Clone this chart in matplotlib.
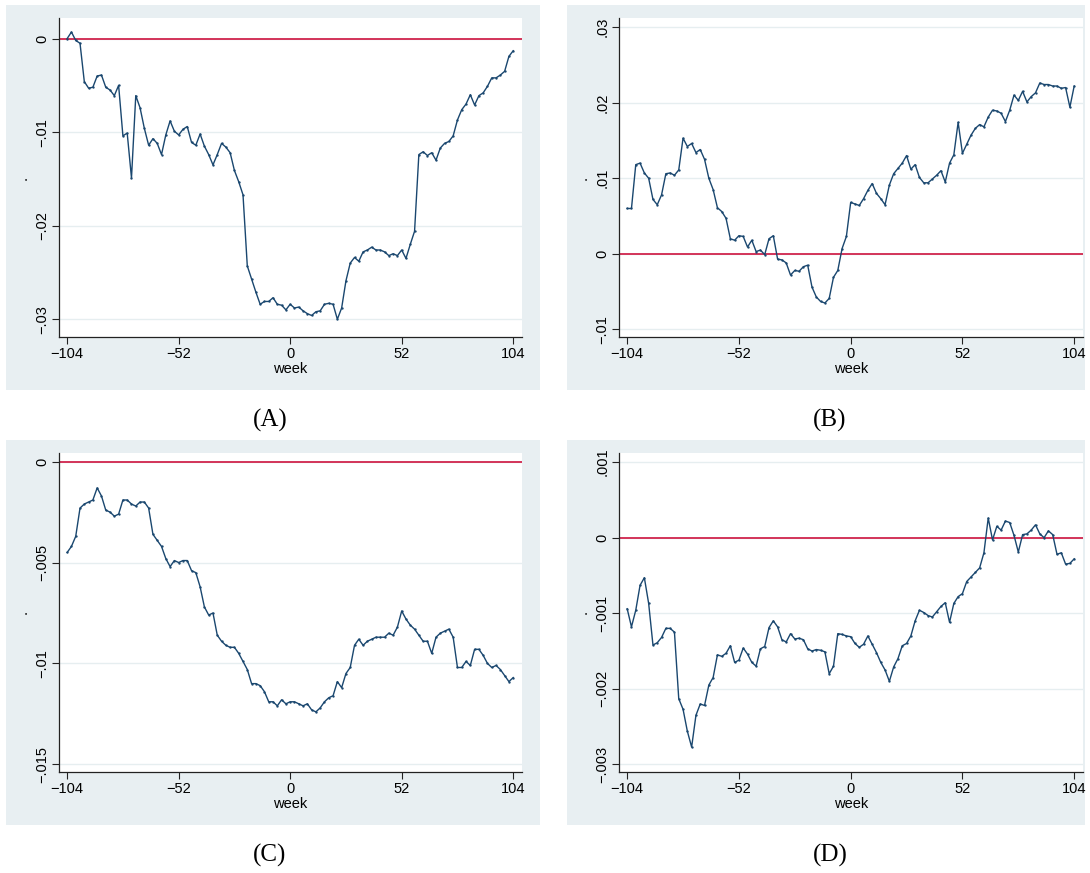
import numpy as np
import matplotlib
matplotlib.use("Agg")
import matplotlib.pyplot as plt
from matplotlib.patches import Rectangle

# %% Data (one value every 2 weeks)
weeks = np.arange(-104, 105, 2)

panel_a = [0.0000, 0.0007, -0.0002, -0.0005, -0.0046, -0.0053, -0.0052, -0.0040, -0.0039, -0.0052,
           -0.0055, -0.0061, -0.0050, -0.0104, -0.0101, -0.0149, -0.0061, -0.0074, -0.0096, -0.0114,
           -0.0107, -0.0112, -0.0124, -0.0103, -0.0088, -0.0099, -0.0103, -0.0097, -0.0094, -0.0111,
           -0.0114, -0.0102, -0.0115, -0.0124, -0.0135, -0.0124, -0.0112, -0.0116, -0.0122, -0.0141,
           -0.0153, -0.0167, -0.0243, -0.0257, -0.0271, -0.0284, -0.0281, -0.0281, -0.0277, -0.0284,
           -0.0285, -0.0290, -0.0284, -0.0288, -0.0287, -0.0291, -0.0294, -0.0296, -0.0292, -0.0291,
           -0.0284, -0.0283, -0.0284, -0.0300, -0.0288, -0.0259, -0.0240, -0.0234, -0.0238, -0.0228,
           -0.0226, -0.0223, -0.0226, -0.0226, -0.0228, -0.0232, -0.0230, -0.0232, -0.0226, -0.0235,
           -0.0220, -0.0206, -0.0124, -0.0121, -0.0125, -0.0122, -0.0130, -0.0117, -0.0112, -0.0110,
           -0.0104, -0.0087, -0.0076, -0.0070, -0.0060, -0.0071, -0.0061, -0.0058, -0.0051, -0.0042,
           -0.0042, -0.0039, -0.0035, -0.0019, -0.0013]

panel_b = [0.0060, 0.0060, 0.0118, 0.0120, 0.0107, 0.0100, 0.0072, 0.0065, 0.0078, 0.0106,
           0.0107, 0.0104, 0.0111, 0.0153, 0.0142, 0.0146, 0.0134, 0.0138, 0.0125, 0.0100,
           0.0085, 0.0061, 0.0056, 0.0047, 0.0020, 0.0018, 0.0024, 0.0023, 0.0009, 0.0018,
           0.0003, 0.0005, -0.0001, 0.0020, 0.0024, -0.0007, -0.0008, -0.0012, -0.0028, -0.0022,
           -0.0023, -0.0017, -0.0015, -0.0044, -0.0057, -0.0063, -0.0065, -0.0059, -0.0031, -0.0022,
           0.0007, 0.0023, 0.0068, 0.0066, 0.0064, 0.0073, 0.0084, 0.0093, 0.0080, 0.0073,
           0.0065, 0.0091, 0.0106, 0.0113, 0.0120, 0.0130, 0.0112, 0.0118, 0.0101, 0.0094,
           0.0094, 0.0099, 0.0104, 0.0110, 0.0095, 0.0120, 0.0131, 0.0174, 0.0133, 0.0145,
           0.0157, 0.0166, 0.0171, 0.0168, 0.0181, 0.0190, 0.0189, 0.0186, 0.0175, 0.0190,
           0.0210, 0.0203, 0.0215, 0.0201, 0.0208, 0.0213, 0.0226, 0.0224, 0.0224, 0.0222,
           0.0222, 0.0219, 0.0220, 0.0194, 0.0222]

panel_c = [-0.0045, -0.0042, -0.0037, -0.0023, -0.0021, -0.0020, -0.0019, -0.0013, -0.0017, -0.0024,
           -0.0025, -0.0027, -0.0026, -0.0019, -0.0019, -0.0021, -0.0022, -0.0020, -0.0020, -0.0023,
           -0.0036, -0.0039, -0.0042, -0.0048, -0.0052, -0.0049, -0.0050, -0.0049, -0.0049, -0.0054,
           -0.0055, -0.0062, -0.0072, -0.0076, -0.0075, -0.0086, -0.0089, -0.0091, -0.0092, -0.0092,
           -0.0095, -0.0099, -0.0103, -0.0110, -0.0110, -0.0111, -0.0114, -0.0119, -0.0119, -0.0121,
           -0.0118, -0.0120, -0.0119, -0.0119, -0.0120, -0.0121, -0.0120, -0.0123, -0.0124, -0.0122,
           -0.0119, -0.0117, -0.0116, -0.0109, -0.0112, -0.0105, -0.0102, -0.0091, -0.0088, -0.0091,
           -0.0089, -0.0088, -0.0087, -0.0087, -0.0087, -0.0085, -0.0086, -0.0082, -0.0074, -0.0078,
           -0.0081, -0.0083, -0.0086, -0.0089, -0.0089, -0.0095, -0.0087, -0.0085, -0.0084, -0.0083,
           -0.0087, -0.0102, -0.0102, -0.0099, -0.0101, -0.0093, -0.0093, -0.0096, -0.0100, -0.0102,
           -0.0101, -0.0103, -0.0106, -0.0109, -0.0107]

panel_d = [-0.00094, -0.00118, -0.00096, -0.00063, -0.00053, -0.00087, -0.00142, -0.00139, -0.00132, -0.00120,
           -0.00120, -0.00125, -0.00213, -0.00227, -0.00256, -0.00277, -0.00235, -0.00220, -0.00222, -0.00195,
           -0.00185, -0.00155, -0.00157, -0.00153, -0.00143, -0.00165, -0.00162, -0.00146, -0.00154, -0.00165,
           -0.00170, -0.00147, -0.00144, -0.00119, -0.00110, -0.00118, -0.00135, -0.00138, -0.00127, -0.00134,
           -0.00133, -0.00135, -0.00147, -0.00150, -0.00148, -0.00149, -0.00151, -0.00180, -0.00170, -0.00127,
           -0.00128, -0.00130, -0.00131, -0.00140, -0.00145, -0.00141, -0.00130, -0.00141, -0.00152, -0.00165,
           -0.00175, -0.00190, -0.00171, -0.00160, -0.00143, -0.00140, -0.00130, -0.00110, -0.00096, -0.00099,
           -0.00103, -0.00105, -0.00098, -0.00091, -0.00086, -0.00112, -0.00087, -0.00078, -0.00074, -0.00058,
           -0.00052, -0.00046, -0.00040, -0.00020, 0.00026, -0.00003, 0.00015, 0.00010, 0.00022, 0.00020,
           0.00003, -0.00019, 0.00004, 0.00005, 0.00010, 0.00017, 0.00005, 0.00000, 0.00009, 0.00004,
           -0.00022, -0.00020, -0.00035, -0.00034, -0.00028]

x_ticks = [-104, -52, 0, 52, 104]
x_ticklabels = ["\u2212104", "\u221252", "0", "52", "104"]

yticks_a = [0, -0.01, -0.02, -0.03]
ylabels_a = ["0", "\u2212.01", "\u2212.02", "\u2212.03"]
yticks_b = [0.03, 0.02, 0.01, 0, -0.01]
ylabels_b = [".03", ".02", ".01", "0", "\u2212.01"]
yticks_c = [0, -0.005, -0.01, -0.015]
ylabels_c = ["0", "\u2212.005", "\u2212.01", "\u2212.015"]
yticks_d = [0.001, 0, -0.001, -0.002, -0.003]
ylabels_d = [".001", "0", "\u2212.001", "\u2212.002", "\u2212.003"]

panel_names = ["(A)", "(B)", "(C)", "(D)"]

# %% Layout (pixel boxes in a 1090x873 figure)
W, H = 1090, 873
BG = "#e8eff2"
NAVY = "#1a476f"
RED = "#d0254d"
GRID = "#e6eef0"

plt.rcParams["font.family"] = ["Liberation Sans", "DejaVu Sans"]

fig = plt.figure(figsize=(W / 100, H / 100), dpi=100)
fig.patch.set_facecolor("white")

panels = [
    # values, yticks, ylabels, ylim, gray box (x0,y0,x1,y1), plot box (x0,y0,x1,y1), label pos
    (panel_a, yticks_a, ylabels_a, (-0.0319, 0.0022), (6, 5, 540, 390), (59, 18, 522, 337), (270, 420)),
    (panel_b, yticks_b, ylabels_b, (-0.0110, 0.0312), (567, 5, 1085, 390), (619, 18, 1083, 337), (830, 420)),
    (panel_c, yticks_c, ylabels_c, (-0.01538, 0.00043), (6, 440, 540, 825), (59, 453, 522, 772), (270, 855)),
    (panel_d, yticks_d, ylabels_d, (-0.0031, 0.00112), (567, 440, 1085, 825), (619, 453, 1083, 772), (830, 855)),
]

for (vals, yt, yl, ylim, gbox, pbox, lpos), name in zip(panels, panel_names):
    gx0, gy0, gx1, gy1 = gbox
    fig.patches.append(Rectangle((gx0 / W, 1 - gy1 / H), (gx1 - gx0) / W, (gy1 - gy0) / H,
                                 transform=fig.transFigure, facecolor=BG, edgecolor="none", zorder=-10))
    px0, py0, px1, py1 = pbox
    ax = fig.add_axes([px0 / W, 1 - py1 / H, (px1 - px0) / W, (py1 - py0) / H])
    ax.set_zorder(1)
    ax.set_facecolor("white")
    ax.set_xlim(-107.8, 108.1)
    ax.set_ylim(*ylim)

    for t in yt:
        ax.axhline(t, color=GRID, lw=1.0, zorder=1)
    ax.axhline(0, color=RED, lw=1.3, zorder=2)
    ax.plot(weeks, vals, color=NAVY, lw=1.0, marker="o", ms=0.7, zorder=3)

    ax.set_xticks(x_ticks)
    ax.set_xticklabels(x_ticklabels, fontsize=10.5)
    ax.set_yticks(yt)
    ax.set_yticklabels(yl, fontsize=10.5, rotation=90, va="center")
    ax.tick_params(axis="both", length=5, width=0.8, color="#222222", pad=2)
    ax.set_xlabel("week", fontsize=10.5, labelpad=1)
    ax.set_ylabel(".", fontsize=10.5, labelpad=4)

    for s in ["top", "right"]:
        ax.spines[s].set_visible(False)
    for s in ["left", "bottom"]:
        ax.spines[s].set_color("#222222")
        ax.spines[s].set_linewidth(0.9)

    fig.text(lpos[0] / W, 1 - lpos[1] / H, name, ha="center", va="center",
             fontsize=18, family=["Liberation Serif", "DejaVu Serif"])

fig.savefig("out.png", dpi=100)
